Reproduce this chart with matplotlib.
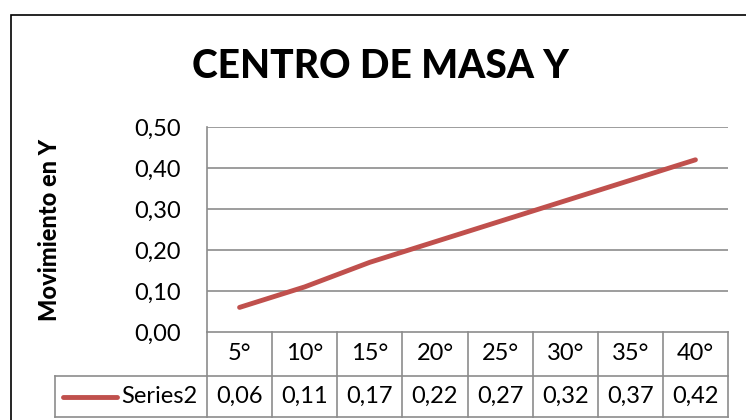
import matplotlib.pyplot as plt
from matplotlib.lines import Line2D
from matplotlib.patches import Rectangle

plt.rcParams['font.family'] = ['Lato', 'DejaVu Sans']

# datos del grafico
angulos = ['5°', '10°', '15°', '20°', '25°', '30°', '35°', '40°']
mov_y = [0.06, 0.11, 0.17, 0.22, 0.27, 0.32, 0.37, 0.42]
y_ticks = [0.0, 0.1, 0.2, 0.3, 0.4, 0.5]
serie = 'Series2'
titulo = 'CENTRO DE MASA Y'
eje_y = 'Movimiento en Y'

W, H = 746, 420
ROJO = '#C0504D'
GRIS = '#8C8C8C'

fig = plt.figure(figsize=(W / 100, H / 100), dpi=100)

# area de trazado en pixeles
x0, x1 = 207, 728
y_top, y_bot = 127, 332
ax = fig.add_axes([x0 / W, 1 - y_bot / H, (x1 - x0) / W, (y_bot - y_top) / H])

n = len(angulos)
xs = list(range(n))
ax.plot(xs, mov_y, color=ROJO, lw=3.5, solid_capstyle='round')
ax.set_xlim(-0.5, n - 0.5)
ax.set_ylim(0, 0.5)
ax.set_yticks(y_ticks)
ax.set_yticklabels([f'{v:.2f}'.replace('.', ',') for v in y_ticks], fontsize=17)
ax.set_xticks([])
ax.tick_params(axis='y', length=0, pad=19)
for s in ['top', 'right', 'bottom']:
    ax.spines[s].set_visible(False)
ax.spines['left'].set_color(GRIS)
ax.spines['left'].set_linewidth(1.2)
for v in y_ticks[1:]:
    ax.axhline(v, color=GRIS, lw=1.2, zorder=0)

ax.set_ylabel(eje_y, fontsize=17, fontweight='black', labelpad=0)
ax.yaxis.set_label_coords((61 - x0) / (x1 - x0), 0.5)

fig.text((187 + 573) / 2 / W, 1 - 66 / H, titulo, fontsize=28, fontweight='black',
         ha='center', va='center')

# tabla de datos debajo del eje
def linea(xa, ya, xb, yb):
    fig.add_artist(Line2D([xa / W, xb / W], [1 - ya / H, 1 - yb / H],
                          transform=fig.transFigure, color=GRIS, lw=1.2))

r0, r1, r2 = 332, 376, 417
t_left = 55
col_w = (x1 - x0) / n
linea(x0, r0, x1, r0)
linea(t_left, r1, x1, r1)
linea(t_left, r2, x1, r2)
linea(t_left, r1, t_left, r2)
for i in range(n + 1):
    xc = x0 + i * col_w
    linea(xc, r0, xc, r2)

for i in range(n):
    cx = (x0 + (i + 0.5) * col_w) / W
    fig.text(cx, 1 - (r0 + r1) / 2 / H, angulos[i], fontsize=17, ha='center', va='center')
    fig.text(cx, 1 - (r1 + r2) / 2 / H, f'{mov_y[i]:.2f}'.replace('.', ','),
             fontsize=17, ha='center', va='center')

# clave de la serie
yk = 1 - (r1 + r2) / 2 / H
fig.add_artist(Line2D([63 / W, 117 / W], [yk, yk], transform=fig.transFigure,
                      color=ROJO, lw=3.5, solid_capstyle='round'))
fig.text(121 / W, yk, serie, fontsize=17, ha='left', va='center')

# marco del grafico
fig.add_artist(Rectangle((10.5 / W, -0.1), 1.2, 1 - 14.5 / H + 0.1,
                         transform=fig.transFigure, fill=False, ec='black', lw=1.2))

fig.savefig('out.png', dpi=100)
